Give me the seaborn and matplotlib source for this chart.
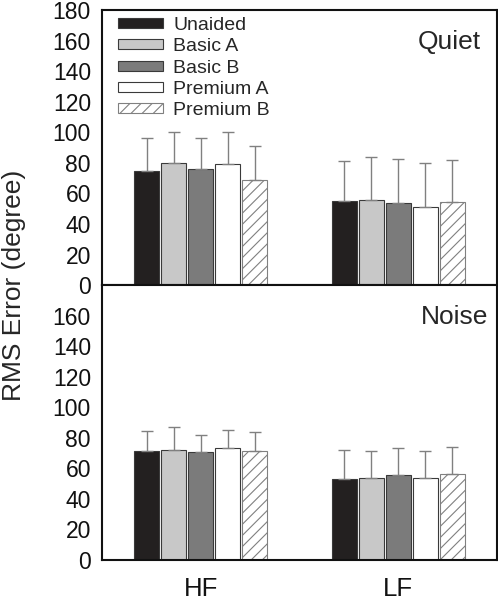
import numpy as np
import pandas as pd
import seaborn as sns
import matplotlib.pyplot as plt

# Data (mean and upper SD)
groups = ['HF', 'LF']
devices = ['Unaided', 'Basic A', 'Basic B', 'Premium A', 'Premium B']

quiet_hf = [75, 80, 76, 79, 69]
quiet_hf_sd = [21, 20, 20, 21, 22]
quiet_lf = [55, 55.5, 54, 51, 54.5]
quiet_lf_sd = [26, 28.5, 28.5, 29, 27.5]

noise_hf = [71.5, 72, 70.5, 73, 71.5]
noise_hf_sd = [13, 15, 11.5, 12, 12]
noise_lf = [53, 54, 55.5, 53.5, 56]
noise_lf_sd = [19, 17.5, 18, 18, 18]

colors = ['#231f20', '#c8c8c8', '#7b7b7b', '#ffffff', '#ffffff']

sns.set_style('white')
plt.rcParams['font.family'] = ['Liberation Sans', 'DejaVu Sans']
plt.rcParams['hatch.linewidth'] = 0.8


def make_df(hf, hf_sd, lf, lf_sd):
    rows = []
    for i, d in enumerate(devices):
        rows.append({'band': 'HF', 'device': d, 'rms': hf[i], 'sd': hf_sd[i]})
        rows.append({'band': 'LF', 'device': d, 'rms': lf[i], 'sd': lf_sd[i]})
    return pd.DataFrame(rows)


df_quiet = make_df(quiet_hf, quiet_hf_sd, quiet_lf, quiet_lf_sd)
df_noise = make_df(noise_hf, noise_hf_sd, noise_lf, noise_lf_sd)

fig, axes = plt.subplots(2, 1, figsize=(4.98, 6.0), dpi=100, sharex=True)
fig.subplots_adjust(left=0.205, right=0.998, top=0.983, bottom=0.0667, hspace=0)

for ax, df, cond in zip(axes, [df_quiet, df_noise], ['Quiet', 'Noise']):
    sns.barplot(data=df, x='band', y='rms', hue='device', order=groups,
                hue_order=devices, palette=colors, errorbar=None,
                width=0.685, gap=0.08, edgecolor='#3a3a3a', linewidth=0.8,
                ax=ax)
    # upper-only SD error bars, placed on the seaborn bars
    bar_conts = list(ax.containers)
    for k, cont in enumerate(bar_conts):
        sub = df[df['device'] == devices[k]].set_index('band').loc[groups]
        xs = [b.get_x() + b.get_width() / 2 for b in cont]
        ax.errorbar(xs, sub['rms'].values,
                    yerr=[np.zeros(len(xs)), sub['sd'].values],
                    fmt='none', ecolor='#808080', elinewidth=1.0,
                    capsize=4, capthick=1.0, zorder=1)
        if devices[k] == 'Premium B':
            for b in cont:
                b.set_hatch('///')
                b.set_edgecolor('#808080')
    ax.set_ylim(0, 180)
    ax.set_xlim(-0.5, 1.5)
    ax.set_xlabel('')
    ax.set_ylabel('')
    for s in ax.spines.values():
        s.set_visible(True)
        s.set_linewidth(1.5)
        s.set_color('#111111')
    ax.tick_params(axis='both', direction='out', length=5, width=1,
                   labelsize=16.5, colors='#111111', pad=3)
    ax.text(0.96 if cond == 'Quiet' else 0.977, 0.885, cond,
            transform=ax.transAxes, ha='right', va='center', fontsize=19)

axes[0].set_yticks(range(0, 181, 20))
axes[1].set_yticks(range(0, 161, 20))
axes[1].tick_params(axis='x', pad=7, labelsize=18.5)
axes[0].tick_params(axis='x', labelbottom=False)

axes[1].get_legend().remove()
handles, labels = axes[0].get_legend_handles_labels()
axes[0].get_legend().remove()
leg = axes[0].legend(handles, labels, loc='upper left',
                     bbox_to_anchor=(0.04, 0.975), frameon=False,
                     fontsize=14, handlelength=2.3, handleheight=0.42,
                     handletextpad=0.55, labelspacing=0.22,
                     borderpad=0, borderaxespad=0)
leg.legend_handles[4].set_hatch('///')
leg.legend_handles[4].set_edgecolor('#808080')

fig.text(0.028, 0.525, 'RMS Error (degree)', rotation=90,
         ha='center', va='center', fontsize=19)

fig.savefig('out.png', dpi=100)
